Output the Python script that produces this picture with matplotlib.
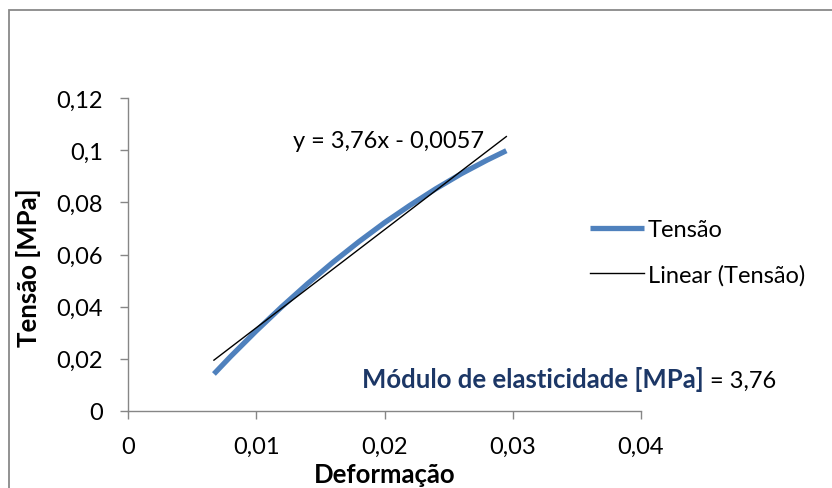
import matplotlib
matplotlib.use("Agg")
import matplotlib.pyplot as plt
from matplotlib.patches import Rectangle
import numpy as np

# data
deformacao = [0.0067, 0.008, 0.010, 0.012, 0.014, 0.016, 0.018, 0.020,
              0.022, 0.024, 0.026, 0.028, 0.0295]
tensao = [0.0142, 0.0209, 0.0307, 0.0400, 0.0488, 0.0571, 0.0649, 0.0722,
          0.0789, 0.0852, 0.0910, 0.0962, 0.0998]
trend_slope = 3.76
trend_intercept = -0.0057
x_ticks = [0, 0.01, 0.02, 0.03, 0.04]
x_ticklabels = ["0", "0,01", "0,02", "0,03", "0,04"]
y_ticks = [0, 0.02, 0.04, 0.06, 0.08, 0.10, 0.12]
y_ticklabels = ["0", "0,02", "0,04", "0,06", "0,08", "0,1", "0,12"]
eq_label = "y = 3,76x - 0,0057"
mod_label = "Módulo de elasticidade [MPa]"
mod_value = " = 3,76"

plt.rcParams['font.family'] = ['Lato', 'DejaVu Sans']

W, H = 832, 489
fig = plt.figure(figsize=(W / 100, H / 100), dpi=100)
fig.patch.set_facecolor('white')

def fx(px):
    return px / W

def fy(py):
    return 1 - py / H

ax = fig.add_axes([fx(128), fy(412), fx(641) - fx(128), fy(99) - fy(412)])

blue = '#4F81BD'
gray = '#868686'
navy = '#1C3766'
fs = 17
fsb = 18.5

line_data, = ax.plot(deformacao, tensao, color=blue, lw=3.8,
                     solid_capstyle='butt', label='Tensão', zorder=2)
xs = np.array([min(deformacao), max(deformacao)])
line_trend, = ax.plot(xs, trend_slope * xs + trend_intercept, color='black',
                      lw=1.0, label='Linear (Tensão)', zorder=3)

ax.set_xlim(0, 0.04)
ax.set_ylim(0, 0.12)
ax.set_xticks(x_ticks)
ax.set_xticklabels(x_ticklabels)
ax.set_yticks(y_ticks)
ax.set_yticklabels(y_ticklabels)

for s in ['top', 'right']:
    ax.spines[s].set_visible(False)
for s in ['left', 'bottom']:
    ax.spines[s].set_color(gray)
    ax.spines[s].set_linewidth(1.0)

ax.tick_params(axis='both', direction='out', length=6, width=1.0,
               color=gray, labelsize=fs, labelcolor='black')
ax.tick_params(axis='y', pad=12)
ax.tick_params(axis='x', pad=12)

ax.set_xlabel('Deformação', fontsize=fsb, fontweight='bold')
ax.xaxis.set_label_coords(0.5, -0.163)
ax.set_ylabel('Tensão [MPa]', fontsize=fsb, fontweight='bold')
ax.yaxis.set_label_coords(-0.17, 0.46)

# trendline equation
fig.text(fx(293), fy(148), eq_label, fontsize=fs, color='black',
         ha='left', va='baseline')

# modulus annotation
t1 = fig.text(fx(362), fy(388), mod_label, fontsize=fsb, fontweight='bold',
              color=navy, ha='left', va='baseline')
ax.annotate(mod_value, xy=(1, 0), xycoords=t1, fontsize=fs, color='black',
            ha='left', va='bottom', annotation_clip=False)

# legend
leg = ax.legend(handles=[line_data, line_trend], loc='center left',
                bbox_to_anchor=(fx(590), fy(253.5)),
                bbox_transform=fig.transFigure, frameon=False, fontsize=fs,
                handlelength=2.3, handletextpad=0.15, labelspacing=1.0,
                borderpad=0, borderaxespad=0)

# chart border
fig.patches.append(Rectangle((fx(9), -0.2), 1.5, fy(11) + 0.2,
                             transform=fig.transFigure, fill=False,
                             edgecolor='#898989', lw=1.3))

fig.savefig('out.png', dpi=100)
